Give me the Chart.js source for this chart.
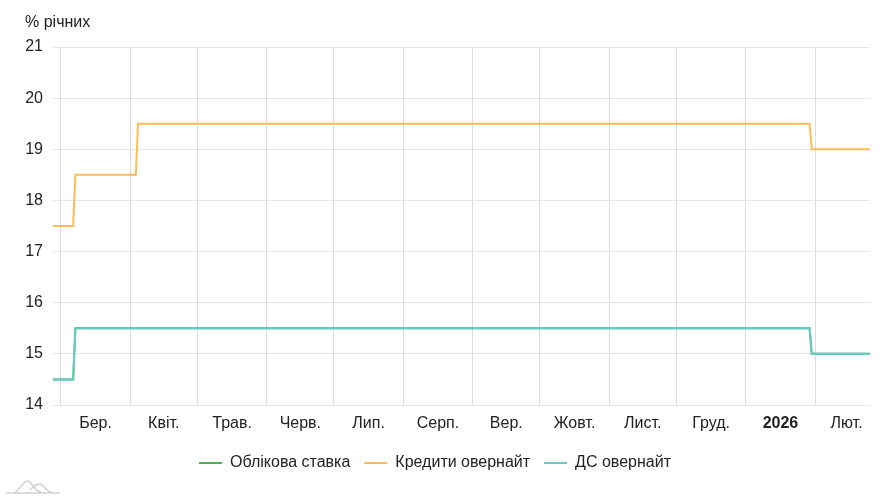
<!DOCTYPE html>
<html>
<head>
    <title>Ставки НБУ</title>
    <script src="https://cdn.jsdelivr.net/npm/chart.js"></script>
    <style>
        body { margin:0; background:#fff; }
        #wrap { width:891px; height:500px; position:relative; }
    </style>
</head>
<body>
<div id="wrap"><canvas id="rates"></canvas></div>
<script>
// observation dates (values are daily, stamped at noon)
const keyDates = ['2025-02-25','2025-03-06','2025-03-07','2026-01-29','2026-01-30','2026-02-25'];
const keyRate = [14.5, 14.5, 15.5, 15.5, 15, 15];
const depositRate = [14.5, 14.5, 15.5, 15.5, 15, 15];
const creditDates = ['2025-02-25','2025-03-06','2025-03-07','2025-04-03','2025-04-04','2026-01-29','2026-01-30','2026-02-25'];
const creditRate = [17.5, 17.5, 18.5, 18.5, 19.5, 19.5, 19, 19];

const monthStarts = ['2025-03-01','2025-04-01','2025-05-01','2025-06-01','2025-07-01','2025-08-01',
                     '2025-09-01','2025-10-01','2025-11-01','2025-12-01','2026-01-01','2026-02-01'];
const monthLabels = ['Бер.','Квіт.','Трав.','Черв.','Лип.','Серп.','Вер.','Жовт.','Лист.','Груд.','2026','Лют.'];
const yTicks = [14, 15, 16, 17, 18, 19, 20, 21];

const FONT = '"Liberation Sans", Arial, sans-serif';
const TEXT = '#222';
const ORIGIN = Date.UTC(2025, 2, 1);
const toDay = s => (Date.parse(s) - ORIGIN) / 864e5;
const pts = (dates, vals) => dates.map((d, i) => ({x: toDay(d + 'T12:00:00Z'), y: vals[i]}));

const gridDays = monthStarts.map(d => toDay(d + 'T00:00:00Z'));
const labelDays = monthStarts.map(d => {
  const t = new Date(d + 'T00:00:00Z');
  const next = Date.UTC(t.getUTCFullYear(), t.getUTCMonth() + 1, 1);
  return (toDay(d + 'T00:00:00Z') + (next - ORIGIN) / 864e5) / 2;
});
const xMin = toDay(keyDates[0] + 'T12:00:00Z');
const xMax = toDay(keyDates[keyDates.length - 1] + 'T12:00:00Z');

const extras = {
  id: 'extras',
  afterDraw(chart) {
    const ctx = chart.ctx;
    ctx.save();
    ctx.fillStyle = TEXT;
    ctx.font = '16px ' + FONT;
    ctx.textBaseline = 'middle';
    ctx.fillText('% річних', 25, 23);
    // little logo mark bottom-left
    ctx.strokeStyle = '#cfcfcf';
    ctx.lineWidth = 1.5;
    ctx.beginPath();
    ctx.moveTo(6, 493); ctx.lineTo(60, 493);
    ctx.moveTo(14, 493);
    ctx.bezierCurveTo(20, 490, 24, 480, 28, 481);
    ctx.bezierCurveTo(32, 482, 36, 493, 41, 492);
    ctx.moveTo(30, 490);
    ctx.bezierCurveTo(34, 486, 38, 482, 42, 485);
    ctx.bezierCurveTo(46, 488, 48, 493, 54, 493);
    ctx.stroke();
    ctx.restore();
  }
};

new Chart(document.getElementById('rates'), {
  type: 'line',
  data: {
    datasets: [
      {label: 'Облікова ставка', data: pts(keyDates, keyRate), borderColor: '#4caf50', backgroundColor: '#4caf50', borderWidth: 2, order: 3},
      {label: 'Кредити овернайт', data: pts(creditDates, creditRate), borderColor: '#ffbb55', backgroundColor: '#ffbb55', borderWidth: 2, order: 2},
      {label: 'ДС овернайт', data: pts(keyDates, depositRate), borderColor: '#66ccc4', backgroundColor: '#66ccc4', borderWidth: 2, order: 1}
    ]
  },
  options: {
    responsive: true,
    maintainAspectRatio: false,
    animation: false,
    parsing: false,
    elements: {line: {tension: 0}, point: {radius: 0, hoverRadius: 0}},
    layout: {padding: {left: 0, right: 21, top: 47, bottom: 19}},
    scales: {
      x: {
        type: 'linear', min: xMin, max: xMax,
        afterBuildTicks: s => { s.ticks = gridDays.map(v => ({value: v})); },
        ticks: {display: false},
        grid: {color: '#dcdcdc', drawTicks: false},
        border: {display: false}
      },
      xl: {
        type: 'linear', position: 'bottom', min: xMin, max: xMax,
        afterBuildTicks: s => { s.ticks = labelDays.map(v => ({value: v})); },
        afterFit: s => { s.height = 36; },
        ticks: {
          autoSkip: false, maxRotation: 0, padding: 1, color: TEXT,
          callback: (v, i) => monthLabels[i],
          font: c => ({family: FONT, size: 16, weight: monthLabels[c.index] === '2026' ? 'bold' : 'normal'})
        },
        grid: {display: false},
        border: {display: false}
      },
      y: {
        min: 14, max: 21,
        afterBuildTicks: s => { s.ticks = yTicks.map(v => ({value: v})); },
        afterFit: s => { s.width = 53; },
        ticks: {padding: 10, color: TEXT, font: {family: FONT, size: 16}},
        grid: {color: '#e6e6e6', drawTicks: false},
        border: {display: false}
      }
    },
    plugins: {
      legend: {
        position: 'bottom',
        labels: {
          usePointStyle: true, pointStyle: 'line', pointStyleWidth: 23,
          padding: 14, color: TEXT, font: {family: FONT, size: 16},
          sort: (a, b) => a.datasetIndex - b.datasetIndex
        }
      },
      tooltip: {enabled: false}
    }
  },
  plugins: [extras]
});
</script>
</body>
</html>
